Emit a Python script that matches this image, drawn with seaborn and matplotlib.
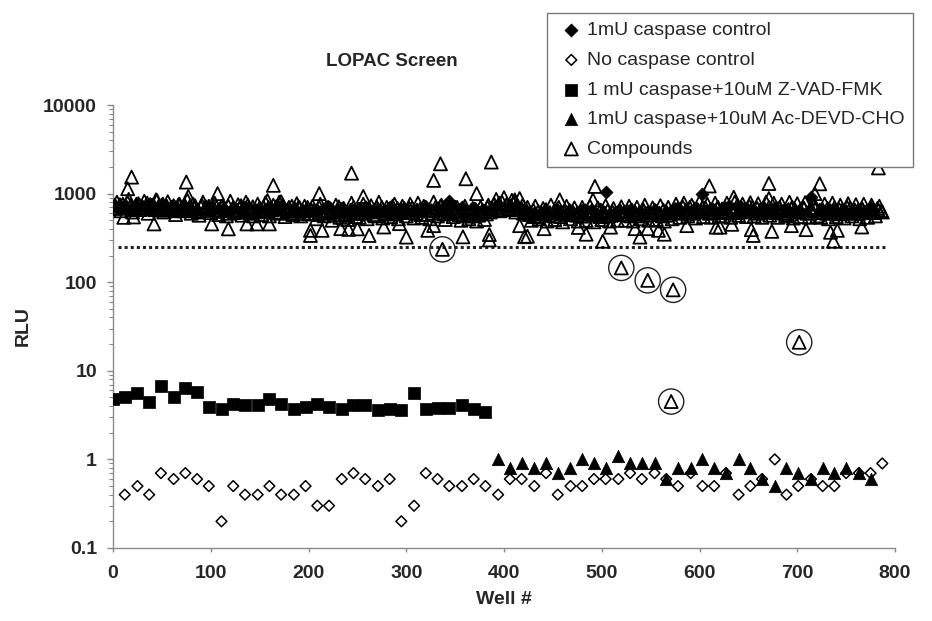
import numpy as np
import pandas as pd
import matplotlib
matplotlib.use("Agg")
import matplotlib.pyplot as plt
import seaborn as sns
from matplotlib.ticker import FixedLocator, FixedFormatter, LogLocator, NullFormatter

# ---------------- data ----------------
title = "LOPAC Screen"
x_label = "Well #"
y_label = "RLU"
legend_labels = ["1mU caspase control", "No caspase control",
                 "1 mU caspase+10uM Z-VAD-FMK", "1mU caspase+10uM Ac-DEVD-CHO",
                 "Compounds"]
xtick_vals = [0, 100, 200, 300, 400, 500, 600, 700, 800]
ytick_vals = [0.1, 1, 10, 100, 1000, 10000]
ytick_labels = ["0.1", "1", "10", "100", "1000", "10000"]

threshold_x = [5, 790]
threshold_y = [250, 250]

# 1mU caspase control (filled diamonds)
casp_well = [0, 12, 25, 37, 49, 62, 74, 86, 98, 111, 123, 135, 148, 160, 172, 185,
             197, 209, 221, 234, 246, 258, 271, 283, 295, 308, 320, 332, 344, 357, 369, 381,
             394, 406, 418, 431, 443, 455, 468, 480, 492, 504, 517, 529, 541, 554, 566, 578,
             591, 603, 615, 627, 640, 652, 664, 677, 689, 701, 714, 726, 738, 750, 763, 775]
casp_rlu = [700, 720, 680, 650, 700, 730, 690, 660, 710, 640,
            680, 700, 650, 670, 720, 690, 640, 660, 700, 680,
            650, 690, 640, 700, 670, 660, 710, 690, 830, 700,
            680, 660, 740, 720, 640, 600, 620, 640, 600, 650,
            620, 1040, 640, 660, 610, 650, 620, 680, 640, 1000,
            650, 680, 700, 640, 660, 690, 650, 620, 910, 640,
            660, 620, 650, 680]

# No caspase control (open diamonds)
nocasp_well = [12, 25, 37, 49, 62, 74, 86, 98, 111, 123, 135, 148, 160, 172, 185, 197,
               209, 221, 234, 246, 258, 271, 283, 295, 308, 320, 332, 344, 357, 369, 381, 394,
               406, 418, 431, 443, 455, 468, 480, 492, 504, 517, 529, 541, 554, 566, 578, 591,
               603, 615, 627, 640, 652, 664, 677, 689, 701, 714, 726, 738, 750, 763, 775, 787]
nocasp_rlu = [0.4, 0.5, 0.4, 0.7, 0.6, 0.7, 0.6, 0.5, 0.2, 0.5,
              0.4, 0.4, 0.5, 0.4, 0.4, 0.5, 0.3, 0.3, 0.6, 0.7,
              0.6, 0.5, 0.6, 0.2, 0.3, 0.7, 0.6, 0.5, 0.5, 0.6,
              0.5, 0.4, 0.6, 0.6, 0.5, 0.7, 0.4, 0.5, 0.5, 0.6,
              0.6, 0.6, 0.7, 0.6, 0.7, 0.6, 0.5, 0.7, 0.5, 0.5,
              0.7, 0.4, 0.5, 0.6, 1.0, 0.4, 0.5, 0.6, 0.5, 0.5,
              0.7, 0.7, 0.7, 0.9]

# 1 mU caspase + Z-VAD-FMK (filled squares)
zvad_well = [0, 12, 25, 37, 49, 62, 74, 86, 98, 111, 123, 135, 148, 160, 172, 185,
             197, 209, 221, 234, 246, 258, 271, 283, 295, 308, 320, 332, 344, 357, 369, 381]
zvad_rlu = [4.8, 5.1, 5.6, 4.5, 6.8, 5.1, 6.4, 5.8, 3.9, 3.7,
            4.2, 4.1, 4.1, 4.8, 4.2, 3.7, 3.9, 4.2, 3.9, 3.7,
            4.1, 4.1, 3.6, 3.7, 3.6, 5.6, 3.7, 3.8, 3.8, 4.1,
            3.7, 3.4]

# 1mU caspase + Ac-DEVD-CHO (filled triangles)
devd_well = [394, 406, 418, 431, 443, 455, 468, 480, 492, 504, 517, 529, 541, 554, 566, 578,
             591, 603, 615, 627, 640, 652, 664, 677, 689, 701, 714, 726, 738, 750, 763, 775]
devd_rlu = [1.0, 0.8, 0.9, 0.8, 0.9, 0.7, 0.8, 1.0, 0.9, 0.8,
            1.1, 0.9, 0.9, 0.9, 0.6, 0.8, 0.8, 1.0, 0.8, 0.7,
            1.0, 0.8, 0.6, 0.5, 0.8, 0.7, 0.6, 0.8, 0.7, 0.8,
            0.7, 0.6]

# Compounds: main band (first set of wells)
band_well = [2, 6, 10, 14, 18, 22, 26, 30, 34, 38, 42, 46, 50,
             54, 58, 62, 66, 70, 74, 78, 82, 86, 90, 94, 98,
             102, 106, 110, 114, 118, 122, 126, 130, 134, 138, 142, 146, 150,
             154, 158, 162, 166, 170, 174, 178, 182, 186, 190, 194, 198,
             202, 206, 210, 214, 218, 222, 226, 230, 234, 238, 242, 246, 250,
             254, 258, 262, 266, 270, 274, 278, 282, 286, 290, 294, 298,
             302, 306, 310, 314, 318, 322, 326, 330, 334, 338, 342, 346, 350,
             354, 358, 362, 366, 370, 374, 378, 382, 386,
             390, 394, 398, 402, 406, 410, 414, 418,
             422, 426, 430, 434, 438, 442, 446, 450, 454, 458, 462, 466, 470,
             474, 478, 482, 486, 490, 494, 498, 502, 506, 510, 514, 518,
             522, 526, 530, 534, 538, 542, 546, 550, 554, 558, 562, 566, 570,
             574, 578, 582, 586, 590, 594, 598, 602, 606, 610, 614, 618,
             622, 626, 630, 634, 638, 642, 646, 650, 654, 658, 662, 666, 670,
             674, 678, 682, 686, 690, 694, 698, 702, 706, 710, 714, 718,
             722, 726, 730, 734, 738, 742, 746, 750, 754, 758, 762, 766, 770, 774, 778, 782, 786]
band_rlu = [740, 690, 760, 700, 730, 680, 770, 710, 690, 750, 720, 680, 740,
            700, 660, 730, 690, 650, 720, 680, 760, 640, 700, 670, 720,
            650, 700, 640, 690, 720, 660, 630, 700, 680, 740, 650, 620, 690,
            700, 640, 680, 620, 690, 730, 650, 600, 670, 710, 640, 660,
            600, 650, 580, 640, 690, 610, 570, 630, 660, 590, 620, 700, 600,
            650, 600, 680, 620, 700, 640, 590, 660, 720, 610, 650, 680,
            620, 690, 600, 660, 720, 580, 640, 700, 610, 680, 650, 600, 700,
            580, 620, 560, 640, 600, 570, 650, 590, 620,
            760, 700, 800, 740, 690, 780, 720, 680,
            620, 580, 650, 560, 610, 640, 570, 600, 660, 550, 620, 590, 630,
            570, 620, 560, 600, 650, 580, 550, 610, 640, 570, 600, 620,
            580, 640, 560, 620, 600, 660, 570, 610, 650, 590, 560, 630, 600,
            620, 680, 600, 650, 700, 610, 660, 630, 690, 600, 650, 680,
            630, 690, 610, 660, 710, 620, 670, 640, 700, 600, 650, 690, 630,
            660, 610, 700, 630, 580, 680, 650, 620, 700, 600, 640, 670,
            610, 660, 600, 640, 690, 590, 650, 620, 680, 600, 640, 670, 610, 650, 630, 680, 640]

# Compounds: main band (second set of wells, wider spread)
band2_well = [4, 8, 12, 16, 20, 24, 28, 32, 36, 40, 44, 48,
              52, 56, 60, 64, 68, 72, 76, 80, 84, 88, 92, 96, 100,
              104, 108, 112, 116, 120, 124, 128, 132, 136, 140, 144, 148,
              152, 156, 160, 164, 168, 172, 176, 180, 184, 188, 192, 196, 200,
              204, 208, 212, 216, 220, 224, 228, 232, 236, 240, 244, 248,
              252, 256, 260, 264, 268, 272, 276, 280, 284, 288, 292, 296, 300,
              304, 308, 312, 316, 320, 324, 328, 332, 336, 340, 344, 348,
              352, 356, 360, 364, 368, 372, 376, 380, 384, 388,
              392, 396, 400, 404, 408, 412, 416, 420,
              424, 428, 432, 436, 440, 444, 448, 452, 456, 460, 464, 468, 472,
              476, 480, 484, 488, 492, 496, 500, 504, 508, 512, 516, 520,
              524, 528, 532, 536, 540, 544, 548, 552, 556, 560, 564, 568, 572,
              576, 580, 584, 588, 592, 596, 600, 604, 608, 612, 616, 620,
              624, 628, 632, 636, 640, 644, 648, 652, 656, 660, 664, 668, 672,
              676, 680, 684, 688, 692, 696, 700, 704, 708, 712, 716, 720,
              724, 728, 732, 736, 740, 744, 748, 752, 756, 760, 764, 768, 772, 776, 780, 784]
band2_rlu = [800, 640, 690, 860, 620, 760, 660, 820, 600, 740, 850, 650,
             620, 810, 700, 580, 760, 640, 840, 600, 730, 570, 800, 660, 610,
             780, 580, 720, 560, 820, 610, 750, 570, 800, 600, 560, 760,
             580, 790, 560, 740, 600, 810, 550, 700, 580, 770, 560, 720, 590,
             720, 520, 760, 560, 700, 500, 740, 540, 680, 510, 780, 550,
             540, 760, 520, 730, 560, 800, 530, 700, 550, 760, 520, 720, 560,
             760, 530, 780, 540, 700, 520, 800, 560, 740, 510, 760, 550,
             700, 500, 720, 520, 680, 490, 700, 510, 740, 660,
             860, 640, 900, 660, 840, 620, 880, 600,
             700, 500, 720, 520, 680, 490, 740, 510, 700, 480, 720, 520, 690,
             490, 700, 500, 720, 480, 690, 510, 730, 490, 680, 500, 710,
             500, 720, 490, 700, 520, 740, 500, 690, 510, 730, 490, 700, 520,
             760, 540, 780, 560, 740, 530, 800, 550, 760, 540, 780, 560,
             560, 780, 540, 800, 570, 760, 550, 790, 560, 770, 540, 800, 570,
             780, 540, 760, 560, 800, 530, 770, 550, 790, 540, 760, 560,
             540, 760, 520, 780, 550, 740, 530, 770, 560, 750, 520, 760, 540, 740, 560, 720]

# Compounds: main band (third set of wells)
band3_well = [3, 7, 11, 15, 19, 23, 27, 31, 35, 39, 43, 47, 51,
              55, 59, 63, 67, 71, 75, 79, 83, 87, 91, 95, 99,
              103, 107, 111, 115, 119, 123, 127, 131, 135, 139, 143, 147, 151,
              155, 159, 163, 167, 171, 175, 179, 183, 187, 191, 195, 199,
              203, 207, 211, 215, 219, 223, 227, 231, 235, 239, 243, 247, 251,
              255, 259, 263, 267, 271, 275, 279, 283, 287, 291, 295, 299,
              303, 307, 311, 315, 319, 323, 327, 331, 335, 339, 343, 347, 351,
              355, 359, 363, 367, 371, 375, 379, 383, 387,
              391, 395, 399, 403, 407, 411, 415, 419,
              423, 427, 431, 435, 439, 443, 447, 451, 455, 459, 463, 467, 471,
              475, 479, 483, 487, 491, 495, 499, 503, 507, 511, 515, 519,
              523, 527, 531, 535, 539, 543, 547, 551, 555, 559, 563, 567, 571,
              575, 579, 583, 587, 591, 595, 599, 603, 607, 611, 615, 619,
              623, 627, 631, 635, 639, 643, 647, 651, 655, 659, 663, 667, 671,
              675, 679, 683, 687, 691, 695, 699, 703, 707, 711, 715, 719,
              723, 727, 731, 735, 739, 743, 747, 751, 755, 759, 763, 767, 771, 775, 779, 783, 787]
band3_rlu = [680, 750, 710, 790, 660, 720, 740, 690, 780, 700, 660, 730, 760,
             720, 680, 640, 750, 700, 660, 730, 690, 620, 740, 710, 650,
             690, 630, 720, 660, 600, 700, 650, 730, 620, 680, 710, 640, 660,
             630, 700, 660, 710, 610, 680, 640, 720, 630, 690, 600, 700,
             650, 590, 700, 600, 630, 660, 580, 710, 620, 570, 650, 600, 660,
             610, 690, 640, 580, 660, 700, 610, 640, 590, 680, 630, 610,
             680, 610, 650, 580, 690, 640, 600, 660, 720, 590, 630, 700, 620,
             640, 580, 610, 560, 660, 600, 630, 700, 680,
             700, 780, 660, 760, 720, 820, 660, 740,
             650, 600, 550, 630, 590, 660, 610, 560, 640, 600, 580, 650, 600,
             610, 560, 640, 590, 620, 570, 650, 600, 560, 620, 590, 640,
             620, 570, 650, 590, 560, 640, 610, 580, 630, 600, 650, 570, 620,
             660, 610, 700, 630, 600, 670, 640, 700, 620, 660, 610, 700,
             670, 620, 700, 640, 610, 690, 650, 720, 630, 680, 610, 660, 700,
             620, 680, 640, 600, 660, 700, 620, 650, 680, 610, 660, 700,
             650, 610, 680, 620, 600, 660, 640, 700, 610, 650, 600, 660, 630, 690, 610, 650, 620]

# Compounds: scattered outliers above/below the band
outlier_well = [15, 19, 45, 75, 77, 107, 158, 164, 170, 211, 244, 256, 328, 335, 361, 372,
                387, 411, 457, 491, 493, 610, 635, 671, 671, 718, 723, 783,
                11, 21, 42, 101, 118, 137, 147, 160, 202, 202, 214, 233, 241, 250, 262, 277,
                293, 300, 322, 328, 358, 385, 385, 416, 421, 424, 441, 476, 484, 501, 509,
                534, 539, 547, 558, 564, 587, 617, 621, 633, 653, 655, 674, 694, 709, 734,
                737, 741, 766]
outlier_rlu = [1135, 1535, 835, 1350, 930, 1000, 835, 1240, 800, 1000, 1700, 930, 1410, 2170,
               1470, 1000, 2270, 850, 850, 850, 1205, 1220, 910, 1300, 880, 1000, 1290, 1950,
               540, 545, 455, 455, 400, 455, 455, 455, 337, 385, 385, 402, 395, 400, 337, 420,
               458, 323, 385, 435, 325, 345, 300, 435, 326, 330, 402, 415, 348, 290, 418,
               402, 323, 402, 385, 348, 435, 418, 418, 450, 392, 337, 375, 435, 392, 366,
               290, 385, 420]

# Compounds below the threshold (circled hits)
hit_well = [337, 520, 547, 573, 571, 702]
hit_rlu = [235, 145, 105, 82, 4.5, 21]

# ---------------- figure ----------------
sns.set_style("white")
plt.rcParams["font.family"] = ["Liberation Sans", "DejaVu Sans"]

W, H = 932, 621
fig = plt.figure(figsize=(W / 100, H / 100), dpi=100)
ax = fig.add_axes([113 / W, 1 - 548 / H, (895 - 113) / W, (548 - 105) / H])
ax.set_yscale("log")

sns.scatterplot(x=casp_well, y=casp_rlu, ax=ax, marker="D", s=44,
                color="black", edgecolor="black", linewidth=0.5,
                label=legend_labels[0], legend=False, zorder=2)
h1 = ax.collections[-1]
sns.scatterplot(x=nocasp_well, y=nocasp_rlu, ax=ax, marker="D", s=30,
                color="black", facecolor="none", edgecolor="black", linewidth=1.1,
                label=legend_labels[1], legend=False, zorder=3)
h2 = ax.collections[-1]
sns.scatterplot(x=zvad_well, y=zvad_rlu, ax=ax, marker="s", s=72,
                color="black", edgecolor="black", linewidth=0.5,
                label=legend_labels[2], legend=False, zorder=3)
h3 = ax.collections[-1]
sns.scatterplot(x=devd_well, y=devd_rlu, ax=ax, marker="^", s=80,
                color="black", edgecolor="black", linewidth=0.5,
                label=legend_labels[3], legend=False, zorder=4)
h4 = ax.collections[-1]

comp = pd.DataFrame({
    "well": band_well + band2_well + band3_well + outlier_well + hit_well,
    "rlu": band_rlu + band2_rlu + band3_rlu + outlier_rlu + hit_rlu})
sns.scatterplot(data=comp, x="well", y="rlu", ax=ax, marker="^", s=88,
                color="black", facecolor="none", edgecolor="black", linewidth=1.3,
                label=legend_labels[4], legend=False, zorder=5)
h5 = ax.collections[-1]

# circles around hits
sns.scatterplot(x=hit_well, y=hit_rlu, ax=ax, marker="o", s=330,
                color="black", facecolor="none", edgecolor="#222222", linewidth=1.0,
                legend=False, zorder=6)

# threshold dotted line
sns.lineplot(x=threshold_x, y=threshold_y, ax=ax, color="#222222", linewidth=2.2,
             linestyle=(0, (1, 1)), dash_capstyle="butt", legend=False, zorder=1)

# axes
ax.set_xlim(0, 800)
ax.set_ylim(0.1, 10000)
ax.xaxis.set_major_locator(FixedLocator(xtick_vals))
ax.yaxis.set_major_locator(FixedLocator(ytick_vals))
ax.yaxis.set_major_formatter(FixedFormatter(ytick_labels))
ax.yaxis.set_minor_locator(LogLocator(base=10, subs=np.arange(2, 10), numticks=20))
ax.yaxis.set_minor_formatter(NullFormatter())

for side in ["top", "right"]:
    ax.spines[side].set_visible(False)
for side in ["left", "bottom"]:
    ax.spines[side].set_color("#8a8a8a")
    ax.spines[side].set_linewidth(1.0)

ax.tick_params(axis="y", which="major", direction="out", length=4.5, width=1.0,
               color="#8a8a8a", pad=7, labelsize=14, left=True)
ax.tick_params(axis="y", which="minor", direction="out", length=3, width=0.8,
               color="#8a8a8a", left=True)
ax.tick_params(axis="x", which="major", direction="out", length=3, width=1.0,
               color="#8a8a8a", pad=9, labelsize=14, bottom=True)
for lab in ax.get_xticklabels() + ax.get_yticklabels():
    lab.set_fontweight("bold")

ax.set_xlabel(x_label, fontsize=14, fontweight="bold", labelpad=7)
ax.set_ylabel(y_label, fontsize=14, fontweight="bold", labelpad=8)
ax.grid(False)

fig.text(392 / W, 1 - 62 / H, title, ha="center", va="center",
         fontsize=13.5, fontweight="bold")

leg = ax.legend(handles=[h1, h2, h3, h4, h5], labels=legend_labels,
                loc="upper left", bbox_to_anchor=(547 / W, 1 - 13 / H),
                bbox_transform=fig.transFigure, frameon=True, fancybox=False,
                fontsize=14, borderpad=0.45, labelspacing=0.62, handlelength=1.6,
                handletextpad=0.0, borderaxespad=0, scatterpoints=1, framealpha=1)
leg.get_frame().set_edgecolor("#7a7a7a")
leg.get_frame().set_linewidth(1.0)
leg.set_zorder(10)

fig.savefig("out.png", dpi=100, facecolor="white")
